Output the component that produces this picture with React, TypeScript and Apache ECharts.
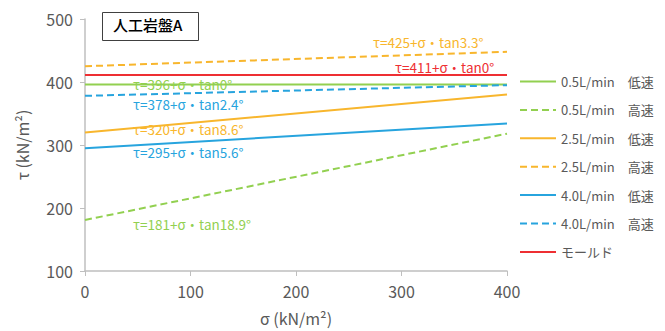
import React, { useEffect, useRef } from "react";
import * as echarts from "echarts";

// σ values at the two ends of each strength line
const sigma = [0, 400];

const seriesNames = [
  "0.5L/min　低速",
  "0.5L/min　高速",
  "2.5L/min　低速",
  "2.5L/min　高速",
  "4.0L/min　低速",
  "4.0L/min　高速",
  "モールド",
];

// τ values at σ = 0 and σ = 400
const tau05Low = [396, 396];
const tau05High = [181, 318];
const tau25Low = [320, 380];
const tau25High = [425, 448];
const tau40Low = [295, 334];
const tau40High = [378, 395];
const tauMold = [411, 411];

const seriesValues = [tau05Low, tau05High, tau25Low, tau25High, tau40Low, tau40High, tauMold];

const GREEN = "#92D050";
const ORANGE = "#F8B62D";
const BLUE = "#27A4DE";
const RED = "#EE2F33";
const seriesColors = [GREEN, GREEN, ORANGE, ORANGE, BLUE, BLUE, RED];
const seriesDashed = [false, true, false, true, false, true, false];

const xTicks = [0, 100, 200, 300, 400];
const yTicks = [100, 200, 300, 400, 500];

const equations = [
  { text: "τ=425+σ・tan3.3°", color: ORANGE, left: 373, top: 35 },
  { text: "τ=411+σ・tan0°", color: RED, left: 395, top: 60 },
  { text: "τ=396+σ・tan0°", color: GREEN, left: 133, top: 77 },
  { text: "τ=378+σ・tan2.4°", color: BLUE, left: 133, top: 97 },
  { text: "τ=320+σ・tan8.6°", color: ORANGE, left: 133, top: 122 },
  { text: "τ=295+σ・tan5.6°", color: BLUE, left: 133, top: 145 },
  { text: "τ=181+σ・tan18.9°", color: GREEN, left: 133, top: 217 },
];

const FONT = "'Noto Sans CJK JP', 'Noto Sans', sans-serif";
const AXIS_COLOR = "#BFBFBF";
const LABEL_COLOR = "#595959";

export default function App() {
  const ref = useRef<HTMLDivElement>(null);

  useEffect(() => {
    if (!ref.current) return;
    const chart = echarts.init(ref.current, undefined, { renderer: "svg" });
    const option: any = {
      animation: false,
      backgroundColor: "#ffffff",
      textStyle: { fontFamily: FONT },
      grid: { left: 85, right: 158, top: 19, bottom: 58, containLabel: false },
      xAxis: {
        type: "value",
        min: xTicks[0],
        max: xTicks[xTicks.length - 1],
        interval: 100,
        name: "σ (kN/m²)",
        nameLocation: "middle",
        nameGap: 39,
        nameTextStyle: { fontSize: 16, color: LABEL_COLOR, fontFamily: FONT },
        axisLine: { lineStyle: { color: AXIS_COLOR, width: 1.5 } },
        axisTick: { show: true, length: 5, lineStyle: { color: AXIS_COLOR } },
        axisLabel: { fontSize: 16, color: LABEL_COLOR, margin: 12, fontFamily: FONT },
        splitLine: { show: false },
      },
      yAxis: {
        type: "value",
        min: yTicks[0],
        max: yTicks[yTicks.length - 1],
        interval: 100,
        name: "τ (kN/m²)",
        nameLocation: "middle",
        nameGap: 55,
        nameTextStyle: { fontSize: 16, color: LABEL_COLOR, fontFamily: FONT },
        axisLine: { show: true, lineStyle: { color: AXIS_COLOR, width: 1.5 } },
        axisTick: { show: true, length: 5, lineStyle: { color: AXIS_COLOR } },
        axisLabel: { fontSize: 16, color: LABEL_COLOR, margin: 12, fontFamily: FONT },
        splitLine: { show: false },
      },
      legend: {
        orient: "vertical",
        left: 514,
        top: 70,
        itemWidth: 36,
        itemHeight: 14,
        itemGap: 15.4,
        itemStyle: { opacity: 0 },
        textStyle: { fontSize: 13, color: LABEL_COLOR, fontFamily: FONT },
        data: seriesNames,
      },
      series: seriesNames.map((name, i) => ({
        name,
        type: "line",
        symbol: "none",
        showSymbol: false,
        color: seriesColors[i],
        lineStyle: {
          color: seriesColors[i],
          width: 2,
          type: seriesDashed[i] ? [7, 4] : "solid",
        },
        data: sigma.map((s, j) => [s, seriesValues[i][j]]),
        z: i === 6 ? 3 : 2,
      })),
      graphic: [
        {
          type: "rect",
          left: 102,
          top: 12,
          shape: { width: 96, height: 28 },
          style: { fill: "#ffffff", stroke: "#404040", lineWidth: 1 },
          z: 10,
        },
        {
          type: "text",
          left: 113,
          top: 17,
          style: { text: "人工岩盤A", fontSize: 15, fontWeight: 500, fill: "#000000", fontFamily: FONT },
          z: 11,
        },
        ...equations.map((e) => ({
          type: "text",
          left: e.left,
          top: e.top,
          style: { text: e.text, fontSize: 13.5, fill: e.color, fontFamily: FONT },
          z: 11,
        })),
      ],
    };
    chart.setOption(option);
    return () => chart.dispose();
  }, []);

  return (
    <div
      ref={ref}
      style={{ position: "absolute", left: 0, top: 0, width: 665, height: 331 }}
    />
  );
}
